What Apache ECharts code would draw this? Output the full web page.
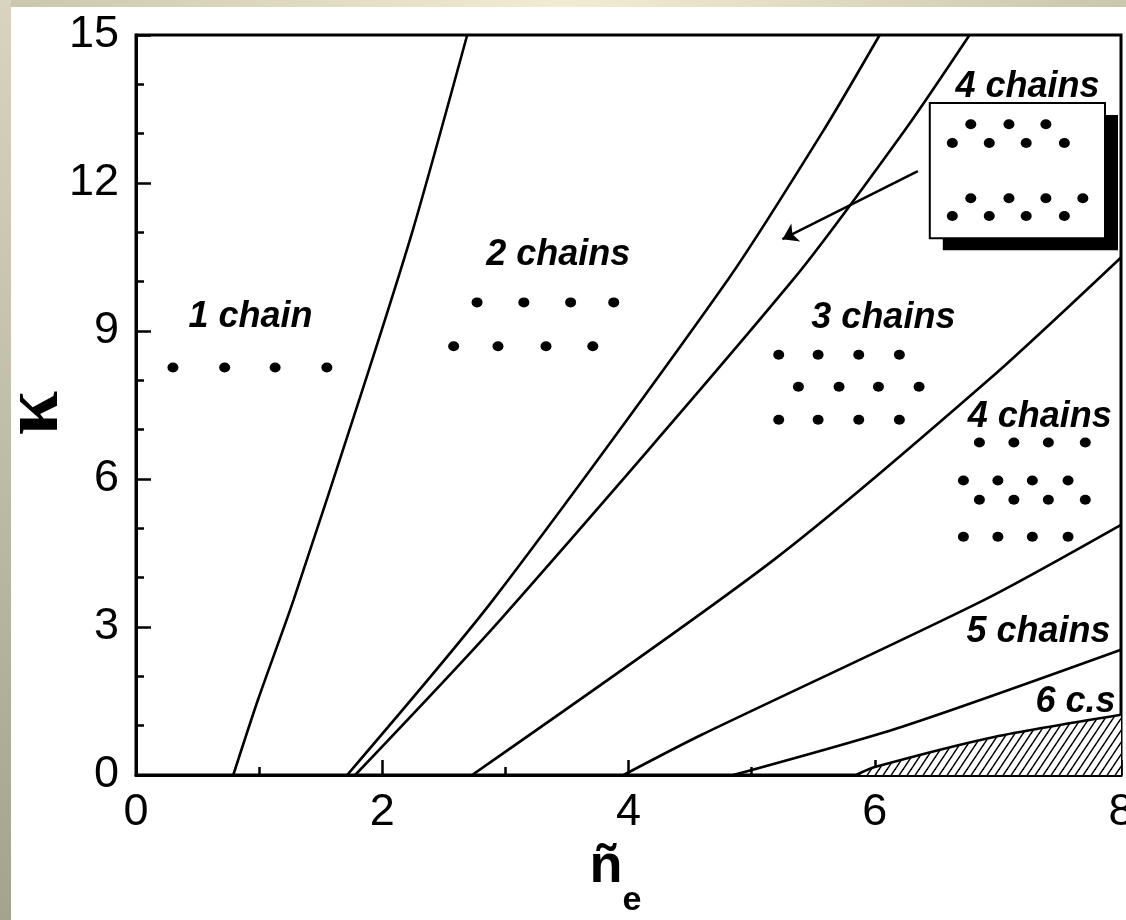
<!DOCTYPE html>
<html><head><meta charset="utf-8">
<script src="https://cdn.jsdelivr.net/npm/echarts@6/dist/echarts.min.js"></script>
<style>html,body{margin:0;padding:0;background:#fff}#c{width:1126px;height:920px}</style>
</head><body><div id="c"></div>
<script>
// ---- axis ticks ----
const xTickValues = [0, 2, 4, 6, 8];
const yTickValues = [0, 3, 6, 9, 12, 15];

// ---- phase boundary lines (n_e, kappa) ----
const boundary1 = [[0.79,0],[0.99,1.52],[1.28,3.55],[1.84,7.81],[2.25,11.06],[2.69,15]];
const boundary2 = [[1.715,0],[2.90,3.55],[4.81,10.05],[5.59,13.09],[6.04,15]];
const boundary3 = [[1.78,0],[2.96,3.15],[5.34,10.05],[6.25,13.09],[6.77,15]];
const boundary4 = [[2.73,0],[5.18,4.36],[6.93,8.02],[8,10.49]];
const boundary5 = [[3.96,0],[4.59,0.81],[6.89,3.55],[8,5.07]];
const boundary6 = [[4.85,0],[6.21,0.97],[8,2.54]];
const boundary7 = [[5.85,0],[6.0,0.16],[6.97,0.77],[8,1.22]];

// ---- schematic particle dots ----
const dots1 = [[0.30,8.26],[0.72,8.26],[1.13,8.26],[1.55,8.26]];
const dots2 = [[2.77,9.58],[3.15,9.58],[3.53,9.58],[3.88,9.58],
               [2.58,8.69],[2.94,8.69],[3.33,8.69],[3.71,8.69]];
const dots3 = [[5.22,8.52],[5.54,8.52],[5.87,8.52],[6.20,8.52],
               [5.38,7.87],[5.71,7.87],[6.03,7.87],[6.36,7.87],
               [5.22,7.20],[5.54,7.20],[5.87,7.20],[6.20,7.20]];
const dots4 = [[6.85,6.74],[7.13,6.74],[7.41,6.74],[7.71,6.74],
               [6.72,5.97],[7.00,5.97],[7.28,5.97],[7.57,5.97],
               [6.85,5.58],[7.13,5.58],[7.41,5.58],[7.71,5.58],
               [6.72,4.83],[7.00,4.83],[7.28,4.83],[7.57,4.83]];
const dotsInset = [[6.78,13.19],[7.09,13.19],[7.39,13.19],
                   [6.63,12.81],[6.93,12.81],[7.23,12.81],[7.54,12.81],
                   [6.78,11.69],[7.09,11.69],[7.39,11.69],[7.69,11.69],
                   [6.63,11.33],[6.93,11.33],[7.23,11.33],[7.54,11.33]];

// ---- region labels ----
const regionNames = ['1 chain','2 chains','3 chains','4 chains','4 chains','5 chains','6 c.s'];
const regionAnchors = [[0.93,9.28],[3.43,10.53],[6.07,9.26],[7.34,7.25],[7.24,13.94],[7.33,2.90],[7.63,1.48]];

// ---- inset box and arrow ----
const insetBox = [6.447, 13.62, 7.870, 10.88];
const arrowFrom = [6.35, 12.24];
const arrowTo = [5.25, 10.86];

// hatch pattern
const hatch = document.createElement('canvas');
hatch.width = 8; hatch.height = 12;
(function(){
  const g = hatch.getContext('2d');
  g.fillStyle = '#fff'; g.fillRect(0,0,8,12);
  g.strokeStyle = '#000'; g.lineWidth = 1.5;
  for (let k = -1; k <= 1; k++) {
    g.beginPath();
    g.moveTo(-8 + 8*k, 24); g.lineTo(16 + 8*k, -12);
    g.stroke();
  }
})();

const FONT = 'Liberation Sans, Arial, sans-serif';
const chart = echarts.init(document.getElementById('c'), null, {renderer: 'canvas'});

function boundarySeries(data, extra) {
  return Object.assign({
    type: 'line', data: data, showSymbol: false, symbol: 'none', smooth: 0.25,
    lineStyle: {color: '#000', width: 2.6, opacity: 1}, z: 2, silent: true
  }, extra || {});
}
function dotSeries(data) {
  return {type: 'scatter', data: data, symbol: 'circle', symbolSize: [11, 10],
    itemStyle: {color: '#000', opacity: 1}, z: 6, silent: true};
}

chart.setOption({
  animation: false,
  backgroundColor: '#fff',
  graphic: [
    {type: 'rect', left: 0, top: 0, z: -1, shape: {width: 1126, height: 7},
      style: {fill: new echarts.graphic.LinearGradient(0,0,1,0,[
        {offset:0,color:'#c9c6b0'},{offset:0.5,color:'#f2ecd4'},{offset:1,color:'#c9c6b0'}])}},
    {type: 'rect', left: 0, top: 0, z: -1, shape: {width: 11, height: 920},
      style: {fill: new echarts.graphic.LinearGradient(0,0,0,1,[
        {offset:0,color:'#d8d4bf'},{offset:1,color:'#a5a38f'}])}}
  ],
  grid: {left: 136, right: 5, top: 35, bottom: 145, show: true,
    borderColor: '#000', borderWidth: 3, backgroundColor: '#fff', outerBoundsMode: 'none'},
  xAxis: {
    type: 'value', min: xTickValues[0], max: xTickValues[xTickValues.length-1],
    interval: xTickValues[1]-xTickValues[0],
    axisLine: {show: true, onZero: false, lineStyle: {color: '#000', width: 3}},
    axisTick: {show: true, inside: true, length: 15, lineStyle: {color: '#000', width: 2.5}},
    minorTick: {show: true, splitNumber: 2, length: 8, lineStyle: {color: '#000', width: 2.5}},
    splitLine: {show: false}, minorSplitLine: {show: false},
    axisLabel: {color: '#000', fontSize: 45, fontFamily: FONT, margin: 15, showMinLabel: true, showMaxLabel: true},
    name: '{n|ñ}{e|e}', nameLocation: 'middle', nameGap: 62,
    nameTextStyle: {color: '#000', rich: {
      n: {fontSize: 54, fontWeight: 'bold', fontFamily: FONT, padding: [0,0,24,0], verticalAlign: 'bottom', color: '#000'},
      e: {fontSize: 34, fontWeight: 'bold', fontFamily: FONT, padding: [0,26,0,0], verticalAlign: 'bottom', color: '#000'}
    }}
  },
  yAxis: {
    type: 'value', min: yTickValues[0], max: yTickValues[yTickValues.length-1],
    interval: yTickValues[1]-yTickValues[0],
    axisLine: {show: true, onZero: false, lineStyle: {color: '#000', width: 3}},
    axisTick: {show: true, inside: true, length: 15, lineStyle: {color: '#000', width: 2.5}},
    minorTick: {show: true, splitNumber: 3, length: 8, lineStyle: {color: '#000', width: 2.5}},
    splitLine: {show: false}, minorSplitLine: {show: false},
    axisLabel: {color: '#000', fontSize: 45, fontFamily: FONT, margin: 17, showMinLabel: true, showMaxLabel: true},
    name: 'κ', nameLocation: 'middle', nameGap: 60, nameRotate: 90, nameMoveOverlap: false,
    nameTextStyle: {color: '#000', fontSize: 80, fontWeight: 'bold', fontFamily: 'Liberation Serif, serif', padding: [0, 16, 0, 0]}
  },
  series: [
    boundarySeries(boundary1),
    boundarySeries(boundary2),
    boundarySeries(boundary3),
    boundarySeries(boundary4),
    boundarySeries(boundary5),
    boundarySeries(boundary6),
    boundarySeries(boundary7, {areaStyle: {color: {image: hatch, repeat: 'repeat'}, opacity: 1, origin: 'start'}}),
    {
      type: 'custom', coordinateSystem: 'cartesian2d', z: 4, silent: true,
      data: [insetBox], encode: {x: [0, 2], y: [1, 3]},
      renderItem: function (params, api) {
        const p1 = api.coord([api.value(0), api.value(1)]);
        const p2 = api.coord([api.value(2), api.value(3)]);
        const w = p2[0] - p1[0], h = p2[1] - p1[1];
        return {type: 'group', children: [
          {type: 'rect', shape: {x: p1[0] + 13, y: p1[1] + 12, width: w, height: h}, style: {fill: '#000'}},
          {type: 'rect', shape: {x: p1[0], y: p1[1], width: w, height: h}, style: {fill: '#fff', stroke: '#000', lineWidth: 2}}
        ]};
      }
    },
    {
      type: 'lines', coordinateSystem: 'cartesian2d', z: 5, silent: true,
      data: [{coords: [arrowFrom, arrowTo]}],
      symbol: ['none', 'arrow'], symbolSize: 15,
      lineStyle: {color: '#000', width: 2.5, opacity: 1}
    },
    dotSeries(dots1), dotSeries(dots2), dotSeries(dots3), dotSeries(dots4), dotSeries(dotsInset),
    {
      type: 'scatter', z: 7, silent: true, symbolSize: 0,
      itemStyle: {opacity: 1},
      data: regionNames.map((n, i) => ({name: n, value: regionAnchors[i]})),
      label: {show: true, position: 'inside', formatter: '{b}', color: '#000', opacity: 1,
        fontSize: 36, fontWeight: 'bold', fontStyle: 'italic', fontFamily: FONT},
      labelLayout: {hideOverlap: false}
    }
  ]
});
</script>
</body></html>
